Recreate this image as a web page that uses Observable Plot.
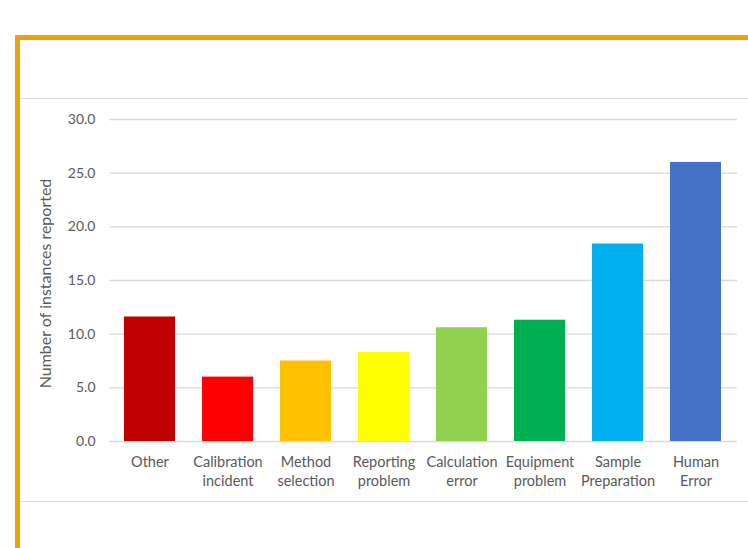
<!DOCTYPE html>
<html>
<head>
<meta charset="utf-8">
<script src="https://cdn.jsdelivr.net/npm/d3@7"></script>
<script src="https://cdn.jsdelivr.net/npm/@observablehq/plot@0.6"></script>
<style>
  html, body { margin: 0; padding: 0; background: #fff; }
  #wrap { position: relative; width: 748px; height: 548px; overflow: hidden; }
  #frame { position: absolute; left: 15px; top: 35px; width: 800px; height: 600px;
           border-top: 5px solid #EBA20F; border-left: 5px solid #EBA20F; box-sizing: border-box; }
  .hline { position: absolute; left: 20px; width: 728px; height: 0; border-top: 1.5px solid #d9d9d9; }
  #chart { position: absolute; left: 0; top: 0; }
</style>
</head>
<body>
<div id="wrap">
  <div id="frame"></div>
  <div class="hline" style="top:98px"></div>
  <div class="hline" style="top:501px"></div>
  <div id="chart"></div>
</div>
<script>
const categories = ["Other", "Calibration\nincident", "Method\nselection", "Reporting\nproblem", "Calculation\nerror", "Equipment\nproblem", "Sample\nPreparation", "Human\nError"];
const values = [11.6, 6.0, 7.5, 8.3, 10.6, 11.3, 18.4, 26.0];
const colors = ["#C00000", "#FF0000", "#FFC000", "#FFFF00", "#92D050", "#00B050", "#00B0F0", "#4472C4"];
const yTicks = [0, 5, 10, 15, 20, 25, 30];
const yLabel = "Number of instances reported";

const data = categories.map((c, i) => ({category: c, value: values[i], color: colors[i]}));

const chart = Plot.plot({
  width: 748,
  height: 548,
  marginTop: 119,
  marginBottom: 107,
  marginLeft: 109,
  marginRight: 11,
  style: {fontFamily: "Lato, 'Open Sans', sans-serif", fontSize: "14.5px", color: "#595959", background: "transparent"},
  x: {domain: categories, paddingInner: 0.34, paddingOuter: 0.17, align: 0.5},
  y: {domain: [0, 30]},
  marks: [
    Plot.gridY(yTicks, {stroke: "#d9d9d9", strokeOpacity: 1, strokeWidth: 1.3}),
    Plot.barY(data, {x: "category", y: "value", fill: "color"}),
    Plot.axisX({tickSize: 0, tickPadding: 12, lineAnchor: "top", lineHeight: 1.32, label: null, fill: "#595959"}),
    Plot.axisY(yTicks, {tickSize: 0, tickPadding: 14, tickFormat: d3.format(".1f"), label: null, fill: "#595959", fontSize: "14px"}),
    Plot.text([yLabel], {text: d => d, frameAnchor: "left", dx: -64, dy: 3, rotate: -90, fill: "#595959", fontSize: 16, lineAnchor: "middle", textAnchor: "middle"})
  ]
});
document.getElementById("chart").appendChild(chart);
</script>
</body>
</html>
